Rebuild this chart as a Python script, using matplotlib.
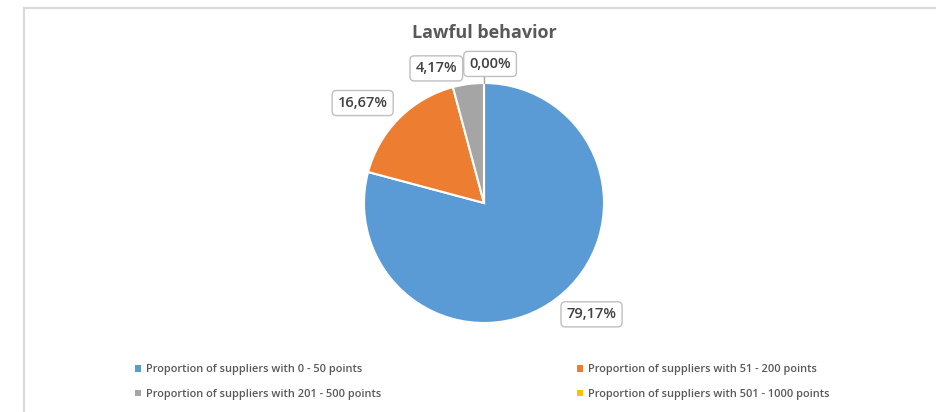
import numpy as np
import matplotlib
matplotlib.use("Agg")
import matplotlib.pyplot as plt
from matplotlib.patches import Patch
from matplotlib.lines import Line2D

title = "Lawful behavior"
categories = [
    "Proportion of suppliers with 0 - 50 points",
    "Proportion of suppliers with 51 - 200 points",
    "Proportion of suppliers with 201 - 500 points",
    "Proportion of suppliers with 501 - 1000 points",
]
values = [79.17, 16.67, 4.17, 0.00]
labels = ["79,17%", "16,67%", "4,17%", "0,00%"]
colors = ["#5B9BD5", "#ED7D31", "#A5A5A5", "#FFC000"]

# label placement (angle offset in degrees, radius factor)
label_pos = [(6.5, 1.29), (5.5, 1.31), (12.0, 1.19), (-2.5, 1.16)]

W, H = 937, 412
fig = plt.figure(figsize=(W / 100, H / 100), dpi=100)
fig.patch.set_facecolor("white")

# outer chart frame (left and top edges visible)
fig.add_artist(Line2D([24 / W, 24 / W], [0, 1 - 8 / H], color="#D9D9D9", lw=1.5))
fig.add_artist(Line2D([24 / W, 1], [1 - 8 / H, 1 - 8 / H], color="#D9D9D9", lw=1.5))

cx, cy, r = 484, 203, 120
ax = fig.add_axes([(cx - r) / W, (H - cy - r) / H, 2 * r / W, 2 * r / H])
wedges, _ = ax.pie(values, colors=colors, startangle=90, counterclock=False,
                   wedgeprops=dict(edgecolor="white", linewidth=1.5))
ax.set_xlim(-1, 1)
ax.set_ylim(-1, 1)
ax.set_aspect("equal")
ax.axis("off")

bbox = dict(boxstyle="round,pad=0.38,rounding_size=0.3", fc="white", ec="#BFBFBF", lw=1)
for w, lab, (da, rf) in zip(wedges, labels, label_pos):
    mid = np.deg2rad((w.theta1 + w.theta2) / 2 + da)
    x, y = rf * np.cos(mid), rf * np.sin(mid)
    ax.text(x, y, lab, ha="center", va="center", fontsize=10.5, color="#404040",
            family="Open Sans", fontweight="semibold", bbox=bbox, clip_on=False)
    if lab == labels[3]:
        ang = np.deg2rad(w.theta1)
        ax.plot([np.cos(ang), np.cos(ang)], [1.0, y - 0.1], color="#A6A6A6", lw=1,
                clip_on=False)

fig.text(cx / W, 1 - 33 / H, title, ha="center", va="center", fontsize=13,
         fontweight="bold", color="#595959", family="Open Sans")

handles = [Patch(facecolor=c, edgecolor="none") for c in colors]
legend_x = [131 / W, 573 / W]
for col in range(2):
    idx = [col, col + 2]
    leg = fig.legend([handles[i] for i in idx], [categories[i] for i in idx],
                     ncol=1, loc="center left",
                     bbox_to_anchor=(legend_x[col], 1 - 382 / H), frameon=False,
                     handlelength=0.5, handleheight=0.5, handletextpad=0.5,
                     labelspacing=1.2, borderaxespad=0,
                     prop=dict(family="Open Sans", weight="semibold", size=7.9))
    for t in leg.get_texts():
        t.set_color("#595959")

fig.savefig("out.png", dpi=100, facecolor="white")
